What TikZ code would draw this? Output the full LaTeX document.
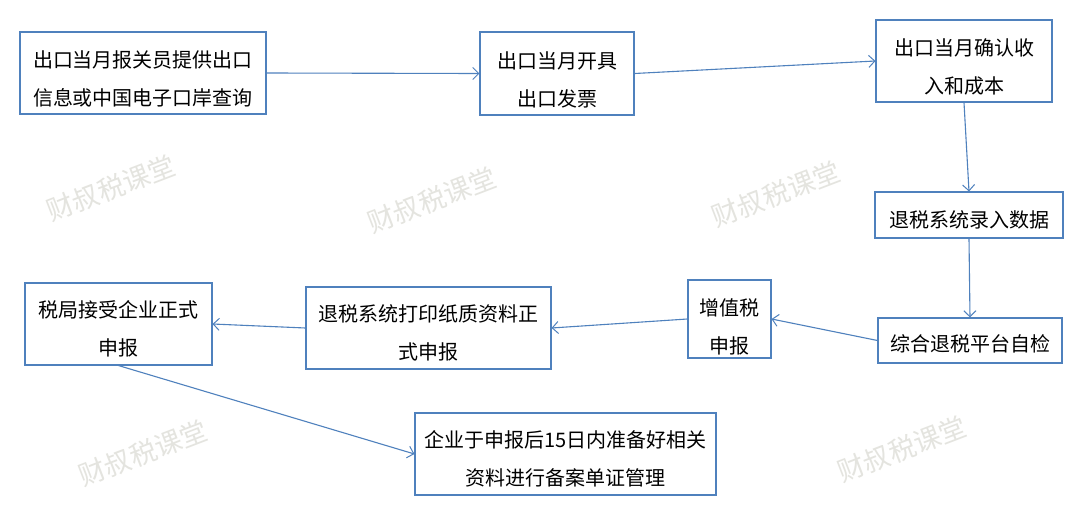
\documentclass[tikz,border=0pt]{standalone}
\usepackage{fontspec}
\newfontfamily\cjk{Noto Sans CJK SC}
\usetikzlibrary{arrows.meta}
\definecolor{boxblue}{HTML}{4F81BD}
\definecolor{wmgray}{HTML}{E4E4DF}
\tikzset{
  box/.style={draw=boxblue, line width=1.1pt, fill=white, rectangle, inner sep=0pt},
  txt/.style={align=center, font=\cjk\fontsize{20}{38}\selectfont, text=black, inner sep=0pt},
  conn/.style={draw=boxblue, line width=1.1pt, -{Straight Barb[length=6pt,width=12pt,line width=1pt]}},
  wm/.style={font=\cjk\fontsize{27}{30}\selectfont, text=wmgray, rotate=21, inner sep=0pt}
}
\begin{document}
\begin{tikzpicture}[x=1pt,y=-1pt]
\useasboundingbox[fill=white] (0,0) rectangle (1080,527);
% watermarks
\node[wm] (w1) at (111,188) {财叔税课堂};
\node[wm] (w2) at (432,200) {财叔税课堂};
\node[wm] (w3) at (776,194) {财叔税课堂};
\node[wm] (w4) at (143,453) {财叔税课堂};
\node[wm] (w5) at (902,449) {财叔税课堂};
% boxes
\node[box, minimum width=246pt, minimum height=82pt] (A) at (143,73) {};
\node[box, minimum width=154pt, minimum height=83pt] (B) at (557,73.5) {};
\node[box, minimum width=176pt, minimum height=82pt] (C) at (964,61) {};
\node[box, minimum width=188pt, minimum height=46pt] (D) at (969,215) {};
\node[box, minimum width=184pt, minimum height=45pt] (E) at (970,340.5) {};
\node[box, minimum width=83pt, minimum height=78pt] (F) at (729.5,319) {};
\node[box, minimum width=245pt, minimum height=82pt] (G) at (428.5,328) {};
\node[box, minimum width=187pt, minimum height=82pt] (H) at (118.5,324) {};
\node[box, minimum width=301pt, minimum height=82pt] (I) at (565.5,454) {};
% texts
\node[txt] (tA) at ([yshift=-6pt]A.center) {出口当月报关员提供出口\\信息或中国电子口岸查询};
\node[txt] (tB) at ([yshift=-6pt]B.center) {出口当月开具\\出口发票};
\node[txt] (tC) at ([yshift=-6pt]C.center) {出口当月确认收\\入和成本};
\node[txt] (tD) at ([yshift=-5pt]D.center) {退税系统录入数据};
\node[txt] (tE) at ([yshift=-3pt]E.center) {综合退税平台自检};
\node[txt] (tF) at ([yshift=-8pt]F.center) {增值税\\申报};
\node[txt] (tG) at ([yshift=-5pt]G.center) {退税系统打印纸质资料正\\式申报};
\node[txt] (tH) at ([yshift=-5pt]H.center) {税局接受企业正式\\申报};
\node[txt] (tI) at ([yshift=-5pt]I.center) {企业于申报后15日内准备好相关\\资料进行备案单证管理};
% connectors
\draw[conn] (A.east) -- (B.west);
\draw[conn] (B.east) -- (C.west);
\draw[conn] (C.south) -- (D.north);
\draw[conn] (D.south) -- (E.north);
\draw[conn] (E.west) -- (F.east);
\draw[conn] (F.west) -- (G.east);
\draw[conn] (G.west) -- (H.east);
\draw[conn] (H.south) -- (I.west);
\end{tikzpicture}
\end{document}
